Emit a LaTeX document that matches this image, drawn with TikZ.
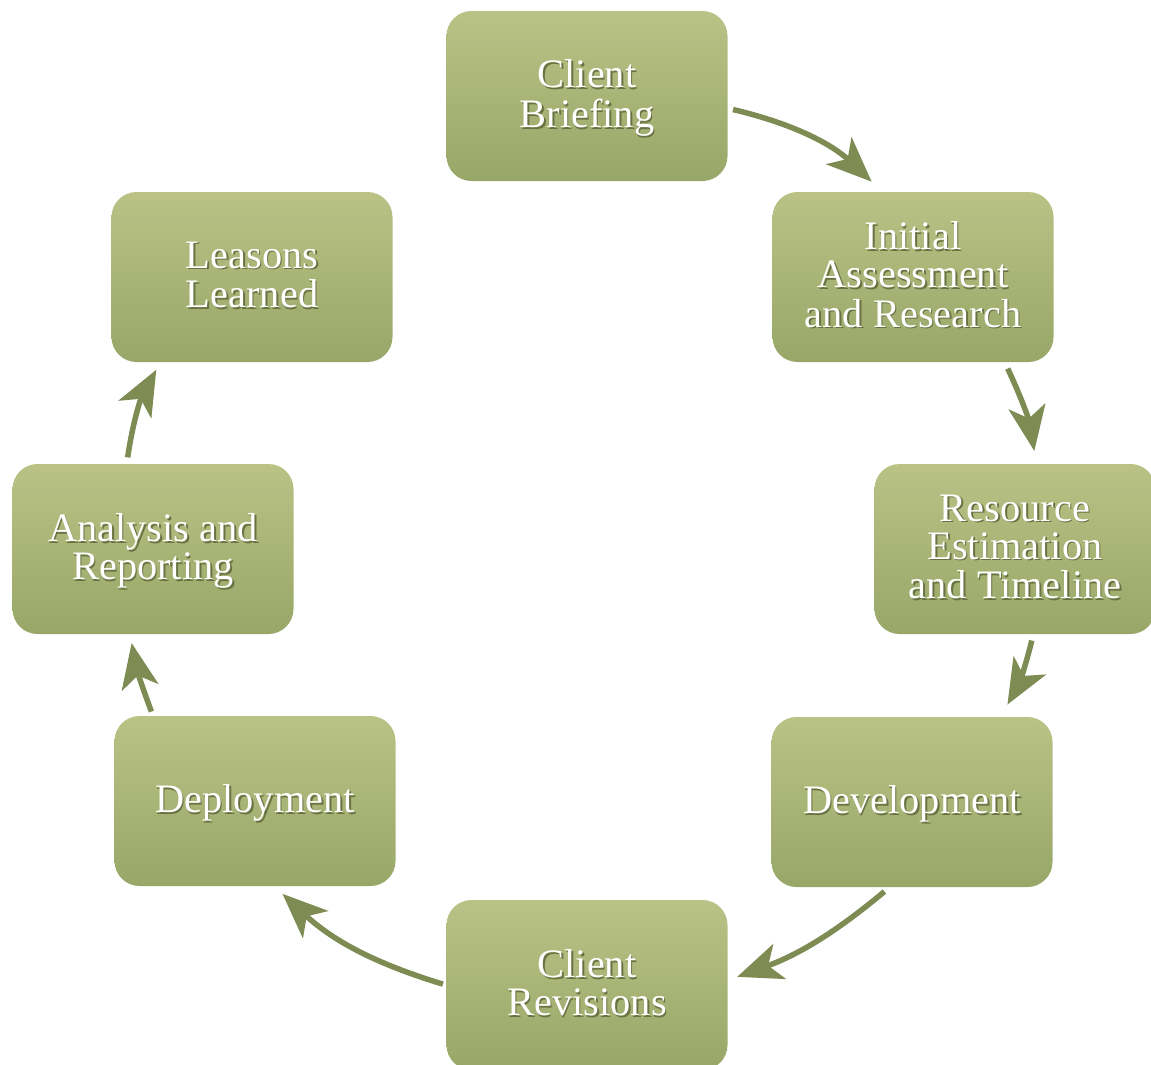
\documentclass[tikz,border=0pt]{standalone}
\usepackage{fontspec}
\setmainfont{Liberation Serif}
\usetikzlibrary{arrows.meta}

\definecolor{boxtop}{RGB}{186,194,134}
\definecolor{boxbottom}{RGB}{152,167,104}
\definecolor{arrowgreen}{RGB}{126,139,82}
\definecolor{textshade}{RGB}{104,114,66}

\newcommand{\steptext}[1]{%
  \raisebox{-2.3pt}[\height][\depth]{%
  \makebox[0pt][l]{\kern0.9pt\raisebox{-0.9pt}{\color{textshade}\begin{tabular}{@{}c@{}}#1\end{tabular}}}%
  \begin{tabular}{@{}c@{}}#1\end{tabular}}}

\begin{document}
\begin{tikzpicture}[auto, thick,
  main node/.style={rectangle,rounded corners=0.5cm,top color=boxtop,bottom color=boxbottom,minimum width=5.62cm,minimum height=3.4cm,inner sep=0pt,text=white,font=\fontsize{23}{21.5}\selectfont},
  flow/.style={draw,color=arrowgreen,line width=0.11cm,-{Stealth[length=0.9cm,width=0.74cm,inset=0.24cm]}}]

  \clip (0,0) rectangle (23.02,-21.3);

  \node[main node] (1) at (11.74,-1.92) {\steptext{Client\\Briefing}};
  \node[main node] (2) at (18.26,-5.54) {\steptext{Initial\\Assessment\\and Research}};
  \node[main node] (3) at (20.30,-10.98) {\steptext{Resource\\Estimation\\and Timeline}};
  \node[main node] (4) at (18.24,-16.04) {\steptext{Development}};
  \node[main node] (5) at (11.74,-19.70) {\steptext{Client\\Revisions}};
  \node[main node] (6) at (5.10,-16.02) {\steptext{Deployment}};
  \node[main node] (7) at (3.06,-10.98) {\steptext{Analysis and\\Reporting}};
  \node[main node] (8) at (5.04,-5.54) {\steptext{Leasons\\Learned}};

  \path
    (1.-5) edge[flow, bend left=15, shorten <=1mm, shorten >=2.8mm] (2.110)
    (2.-43) edge[flow, bend left=8, shorten <=1.3mm, shorten >=2.5mm] (3.76)
    (3.-78) edge[flow, bend left=8, shorten <=1.2mm, shorten >=2.7mm] (4.44)
    (4.-105) edge[flow, bend left=10, shorten <=1.2mm, shorten >=1.9mm] (5.2)
    (5.180) edge[flow, bend left=13, shorten <=0.6mm, shorten >=2.1mm] (6.-77)
    (6.140) edge[flow, bend left=5, shorten <=0.8mm, shorten >=1.7mm] (7.-105)
    (7.107) edge[flow, bend left=10, shorten <=1.2mm, shorten >=1.6mm] (8.-137);

\end{tikzpicture}
\end{document}
